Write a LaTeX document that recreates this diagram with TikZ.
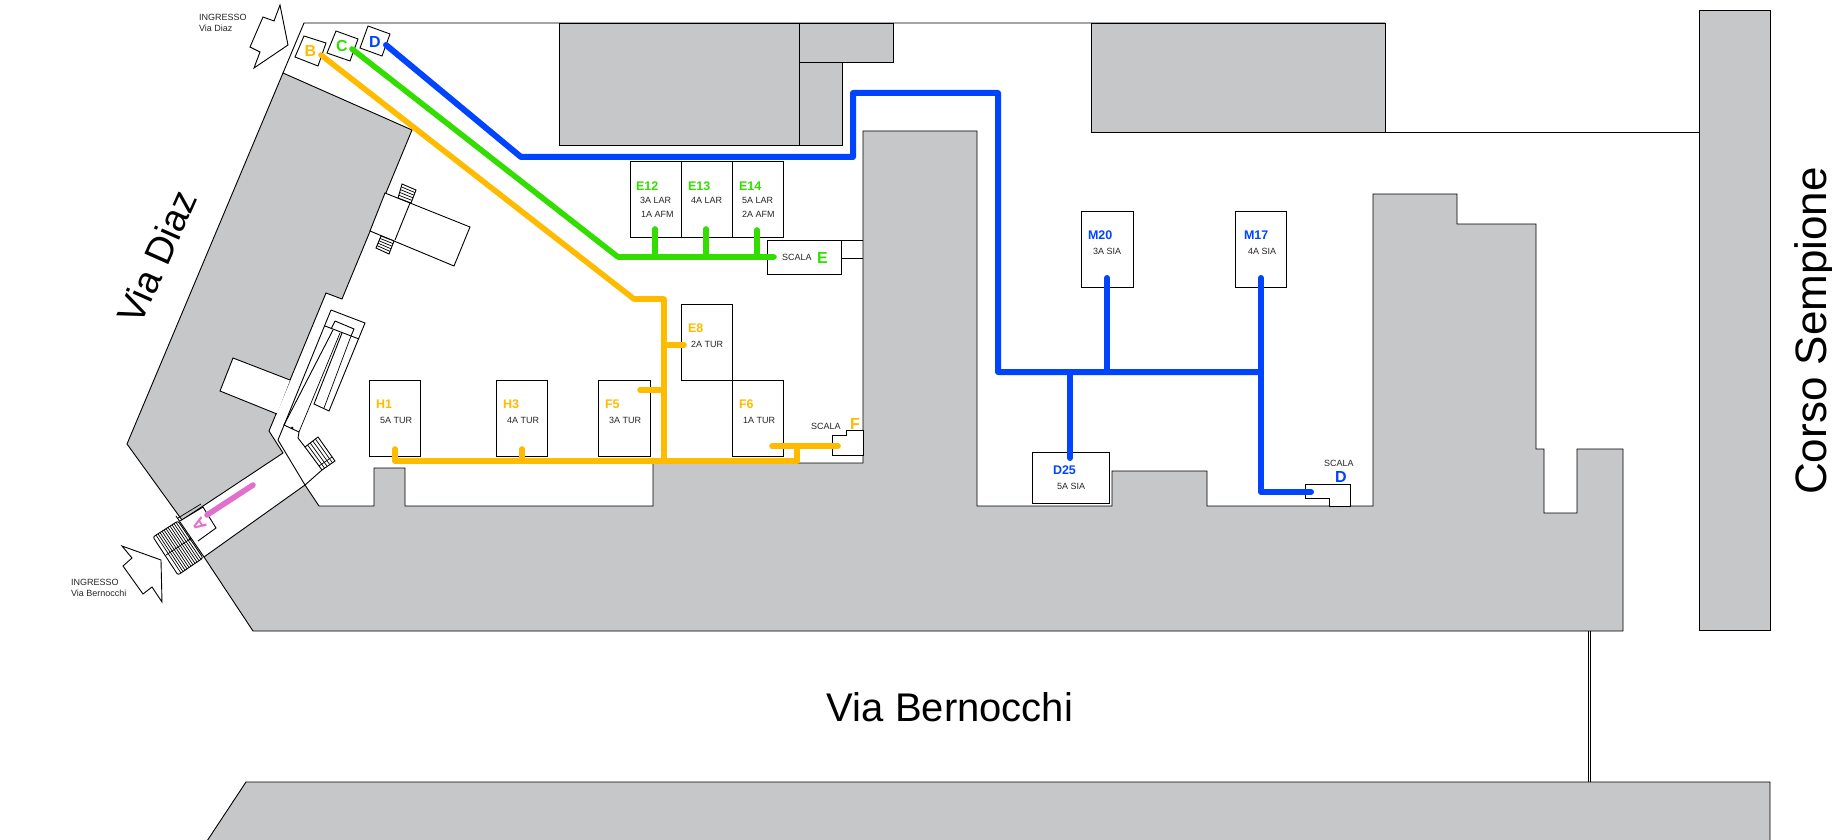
\documentclass[tikz,border=0pt]{standalone}
\usepackage{fontspec}
\setmainfont{Liberation Sans}
\usetikzlibrary{calc}
\definecolor{bldg}{HTML}{C6C7C9}
\definecolor{yel}{HTML}{FFBB00}
\definecolor{grn}{HTML}{33DD00}
\definecolor{blu}{HTML}{0044FF}
\definecolor{pnk}{HTML}{E070CC}
\newcommand{\fs}[1]{\fontsize{#1}{#1}\selectfont}
\tikzset{
  x=1pt,y=-1pt,
  wall/.style={draw=black,line width=0.9pt,line join=miter},
  thin wall/.style={draw=black,line width=0.7pt},
  building/.style={wall,fill=bldg},
  room/.style={wall,fill=white},
  route/.style={line width=5.6pt,line cap=round,line join=round},
  txt/.style={anchor=base west,inner sep=0pt,outer sep=0pt,text=black!85},
  small/.style={txt,font=\fs{9}},
  roomname/.style={txt,font=\fs{12.5}\bfseries},
  letter/.style={txt,font=\fs{16}\bfseries},
  big/.style={inner sep=0pt,text=black,font=\fs{40}},
}
\begin{document}
\begin{tikzpicture}
\useasboundingbox (0,0) rectangle (1832,840);
\fill[white] (0,0) rectangle (1832,840);
% site boundary
\draw[wall] (283,73) -- (304,23) -- (1385,23);
\draw[wall] (1385,132) -- (1699,132);
% buildings
\draw[building] (283,73) -- (412,130) -- (342,299) -- (326,293) -- (269,431) -- (283,453) -- (182,520) -- (127,444) -- cycle;
\draw[building] (204,557) -- (305,485) -- (319,506) -- (374,506) -- (374,468) -- (405,468) -- (405,506) -- (653,506) -- (653,463) -- (863,463) -- (863,131) -- (977,131) -- (977,506) -- (1112,506) -- (1112,471) -- (1207,471) -- (1207,506) -- (1373,506) -- (1373,194) -- (1457,194) -- (1457,224) -- (1536,224) -- (1536,449) -- (1544,449) -- (1544,513) -- (1577,513) -- (1577,449) -- (1623,449) -- (1623,631) -- (253,631) -- cycle;
\draw[building] (559,23) -- (893,23) -- (893,62) -- (842,62) -- (842,145) -- (559,145) -- cycle;
\draw[wall] (799,23) -- (799,145) (799,62) -- (842,62);
\draw[building] (1091,23) rectangle (1385,132);
\draw[building] (1699,10) rectangle (1770,630);
\draw[building] (246,782) -- (1770,782) -- (1770,841) -- (207,841) -- cycle;
\draw[thin wall] (1588,631) -- (1588,782) (1590.5,631) -- (1590.5,782);
% wing extension
\draw[room] (385,193) -- (470,227) -- (454,266) -- (370,231) -- cycle;
\draw[wall] (410,203) -- (395,240);
\draw[room] (402,184) coordinate (sa) -- (416,190) coordinate (sb) -- (411,203) coordinate (sc) -- (398,198) coordinate (sd) -- cycle;
\foreach \t in {0.2,0.4,0.6,0.8} \draw[thin wall] ($(sa)!\t!(sd)$) -- ($(sb)!\t!(sc)$);
\draw[room] (381,236) coordinate (ta) -- (394,241) coordinate (tb) -- (389,254) coordinate (tc) -- (376,248) coordinate (td) -- cycle;
\foreach \t in {0.2,0.4,0.6,0.8} \draw[thin wall] ($(ta)!\t!(td)$) -- ($(tb)!\t!(tc)$);
% white room in the wing
\draw[room] (290,380) -- (233,358) -- (220,391) -- (277,414);
% long staircase strip
\draw[wall] (331,310) -- (365,323) -- (329,411) -- (314,404) -- (342,333);
\draw[wall] (331,310) -- (278,440) -- (305,485);
\draw[wall] (325,326) -- (359,339);
\draw[wall] (335,321) -- (354,329) -- (351,336);
\draw[wall] (335,321) -- (331,329);
\draw[wall] (333,330) -- (284,425) -- (299,432) -- (298,438) -- (305,447);
\draw[thin wall] (340,333) -- (299,432);
\draw[thin wall] (351,336) -- (324,408);
\fill (292,428) circle (1.5);
% side staircase
\draw[room] (305,447) coordinate (ua) -- (318,437) coordinate (ub) -- (335,461) coordinate (uc) -- (322,470) coordinate (ud) -- cycle;
\foreach \t in {0.2,0.4,0.6,0.8} \draw[thin wall] ($(ua)!\t!(ub)$) -- ($(ud)!\t!(uc)$);
\draw[thin wall] (319,466) -- (332,457);
\draw[wall] (322,470) -- (305,485);
% entrance staircase
\draw[room,rounded corners=2pt] (178,521) coordinate (va) -- (153,537) coordinate (vb) -- (178,575) coordinate (vc) -- (203,558) coordinate (vd) -- cycle;
\foreach \t in {0.08,0.16,...,0.96} \draw[thin wall] ($(va)!\t!(vb)$) -- ($(vd)!\t!(vc)$);
\draw[thin wall] (166,555) -- (190,539);
\fill (190,539) circle (1.5);
% wall line through the entrance
\draw[wall] (176,516) -- (204,557);
% entrance box A
\draw[room] (180,521) -- (203,507) -- (216,528) -- (198,541);
\draw[thin wall] (178,518) -- (201,504);
% rooms
\draw[room] (630,161) rectangle (681,237);
\draw[room] (681,161) rectangle (732,237);
\draw[room] (732,161) rectangle (783,237);
\draw[room] (681,304) rectangle (732,380);
\draw[room] (732,380) rectangle (783,456);
\draw[room] (598,380) rectangle (650,456);
\draw[room] (369,380) rectangle (420,456);
\draw[room] (496,380) rectangle (547,456);
\draw[room] (1081,211) rectangle (1133,287);
\draw[room] (1235,211) rectangle (1286,287);
\draw[room] (1032,452) rectangle (1109,503);
% stair cores
\draw[room] (767,240) rectangle (841,274);
\draw[wall] (841,240) -- (863,240) (841,258) -- (863,258);
\draw[room] (832,435) -- (846,435) -- (846,430) -- (863,430) -- (863,455) -- (832,455) -- cycle;
\draw[room] (1305,484) -- (1350,484) -- (1350,506) -- (1329,506) -- (1329,498) -- (1305,498) -- cycle;
% entry tags
\draw[room] (304,36) -- (326,43) -- (318,66) -- (295,57) -- cycle;
\draw[room] (336,31) -- (358,39) -- (350,61) -- (327,53) -- cycle;
\draw[room] (368,26) -- (390,34) -- (382,56) -- (360,48) -- cycle;
% entrance arrows
\draw[room] (280,5) -- (288,45) -- (254,68) -- (260,52) -- (250,47) -- (263,17) -- (274,21) -- cycle;
\draw[room] (122,546) -- (161,560) -- (162,602) -- (152,587) -- (143,594) -- (123,566) -- (132,558) -- cycle;
% routes
\coordinate (bstart) at (321,55);
\coordinate (cstart) at (352,49);
\coordinate (dstart) at (386,45);
\draw[route,yel] (bstart) -- (634,299) -- (664,299) -- (664,461);
\draw[route,yel] (395,449) -- (395,461) -- (797,461) -- (797,446);
\draw[route,yel] (772,446) -- (838,446);
\draw[route,yel] (522,449) -- (522,461);
\draw[route,yel] (664,345) -- (684,345);
\draw[route,yel] (640,390) -- (664,390);
\draw[route,grn] (cstart) -- (618,257) -- (774,257);
\draw[route,grn] (655,229) -- (655,257);
\draw[route,grn] (706,229) -- (706,257);
\draw[route,grn] (757,230) -- (757,257);
\draw[route,blu,line width=6pt] (dstart) -- (521,157) -- (853,157) -- (853,93) -- (998,93) -- (998,372) -- (1261,372);
\draw[route,blu,line width=6pt] (1107,278) -- (1107,372);
\draw[route,blu,line width=6pt] (1261,278) -- (1261,492) -- (1311,492);
\draw[route,blu,line width=6pt] (1070,372) -- (1070,458);
\draw[route,pnk] (207,515) -- (253,485);
% tag letters
\node[letter,text=yel] (lb) at (304.5,57) {B};
\node[letter,text=grn] (lc) at (336,52) {C};
\node[letter,text=blu] (ld) at (369,48) {D};
\node[letter,text=pnk,rotate=123,anchor=center,font=\fs{17}\bfseries] (la) at (199,525) {A};
% arrows text
\node[small] (i1) at (199,21) {INGRESSO};
\node[small] (i2) at (199,32) {Via Diaz};
\node[small] (i3) at (71,585) {INGRESSO};
\node[small] (i4) at (71,596) {Via Bernocchi};
% green rooms
\node[roomname,text=grn] (e12) at (636,190) {E12};
\node[small] (e12a) at (640,204) {3A LAR};
\node[small] (e12b) at (641,218) {1A AFM};
\node[roomname,text=grn] (e13) at (688,190) {E13};
\node[small] (e13a) at (691,204) {4A LAR};
\node[roomname,text=grn] (e14) at (739,190) {E14};
\node[small] (e14a) at (742,204) {5A LAR};
\node[small] (e14b) at (742,218) {2A AFM};
\node[small] (se) at (782,260) {SCALA};
\node[letter,text=grn] (se2) at (817,263) {E};
% yellow rooms
\node[roomname,text=yel] (e8) at (688,332) {E8};
\node[small] (e8a) at (691,347) {2A TUR};
\node[roomname,text=yel] (f5) at (605,408) {F5};
\node[small] (f5a) at (609,423) {3A TUR};
\node[roomname,text=yel] (f6) at (739,408) {F6};
\node[small] (f6a) at (743,423) {1A TUR};
\node[roomname,text=yel] (h1) at (376,408) {H1};
\node[small] (h1a) at (380,423) {5A TUR};
\node[roomname,text=yel] (h3) at (503,408) {H3};
\node[small] (h3a) at (507,423) {4A TUR};
\node[small] (sf) at (811,429) {SCALA};
\node[letter,text=yel] (sf2) at (850,429) {F};
% blue rooms
\node[roomname,text=blu] (m20) at (1088,239) {M20};
\node[small] (m20a) at (1093,254) {3A SIA};
\node[roomname,text=blu] (m17) at (1244,239) {M17};
\node[small] (m17a) at (1248,254) {4A SIA};
\node[roomname,text=blu] (d25) at (1053,474) {D25};
\node[small] (d25a) at (1057,489) {5A SIA};
\node[small] (sd) at (1324,466) {SCALA};
\node[letter,text=blu] (sd2) at (1335,482) {D};
% street names
\node[big] (bern) at (950,707) {Via Bernocchi};
\node[big,rotate=90,font=\fs{44}] (sem) at (1815,331) {Corso Sempione};
\node[big,rotate=66,font=\fs{38}] (diaz) at (157,257) {Via Diaz};
\end{tikzpicture}
\end{document}
